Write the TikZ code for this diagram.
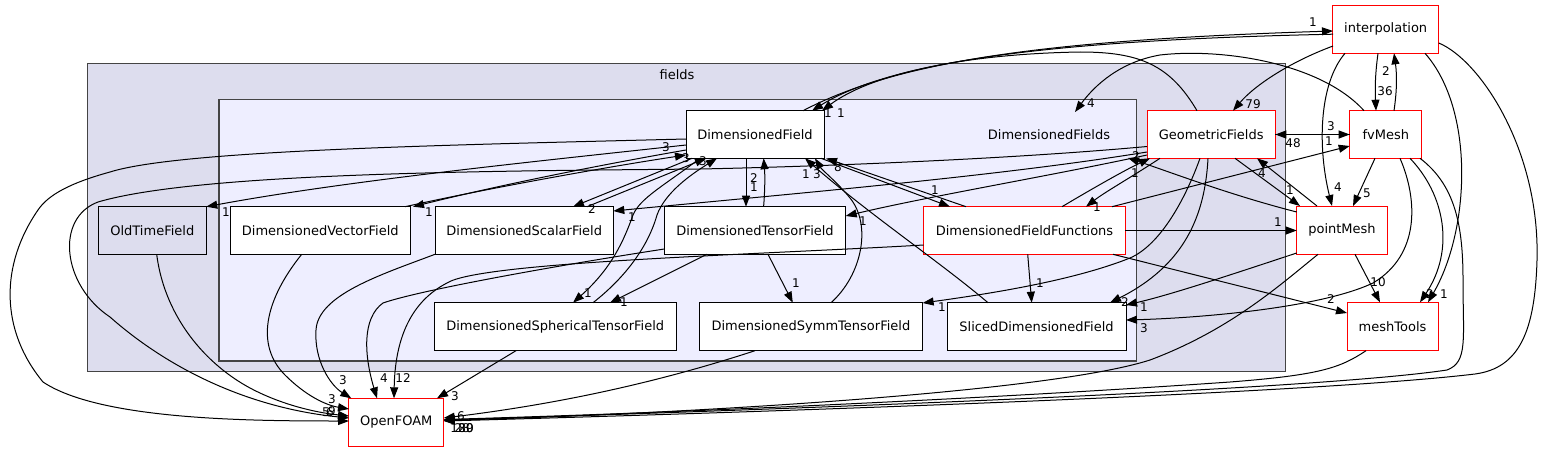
\documentclass[tikz,border=0pt]{standalone}
\usepackage{fontspec}
\setmainfont{DejaVu Sans}
\usetikzlibrary{arrows.meta}
\definecolor{outerc}{HTML}{DDDDEE}
\definecolor{innerc}{HTML}{EEEEFF}
\definecolor{clborder}{HTML}{444444}
\begin{document}
\begin{tikzpicture}[x=1pt,y=-1pt,
  box/.style={draw=black, line width=1pt, fill=white, minimum height=47.6pt, inner sep=0pt, font=\fontsize{13}{15}\selectfont},
  redbox/.style={box, draw=red},
  edge/.style={line width=1pt, -{Triangle[length=11pt,width=8pt]}},
  lbl/.style={font=\fontsize{12}{13}\selectfont, inner sep=0pt},
  cluster/.style={draw=clborder, line width=1.3pt}
]
\useasboundingbox (0,0) rectangle (1546,452);
% clusters
\draw[cluster, fill=outerc] (87.3,63.3) rectangle (1285.7,371.7);
\draw[cluster, fill=innerc] (219,99.3) rectangle (1136.3,361);
\node[font=\fontsize{13}{15}\selectfont, inner sep=0pt] (fields) at (677,75) {fields};
\node[font=\fontsize{13}{15}\selectfont, inner sep=0pt] (DFs) at (1049,134.5) {DimensionedFields};
% nodes
\node[box, minimum width=138pt] (DF) at (755,134.5) {DimensionedField};
\node[box, minimum width=108pt, fill=outerc] (OTF) at (152.3,230.5) {OldTimeField};
\node[box, minimum width=180pt] (DVF) at (320.3,230.5) {DimensionedVectorField};
\node[box, minimum width=178.3pt] (DSF) at (524.2,230.5) {DimensionedScalarField};
\node[box, minimum width=181.4pt] (DTF) at (755,230.5) {DimensionedTensorField};
\node[redbox, minimum width=201.6pt] (DFF) at (1024.5,230.5) {DimensionedFieldFunctions};
\node[box, minimum width=241.6pt, minimum height=48pt] (DSpTF) at (555.2,326.7) {DimensionedSphericalTensorField};
\node[box, minimum width=223.4pt, minimum height=48pt] (DSymmTF) at (810.9,326.7) {DimensionedSymmTensorField};
\node[box, minimum width=179pt, minimum height=48pt] (SDF) at (1036.5,326.7) {SlicedDimensionedField};
\node[redbox, minimum width=128.3pt] (GF) at (1211.2,134.5) {GeometricFields};
\node[redbox, minimum width=72.3pt] (fvMesh) at (1385.8,134.5) {fvMesh};
\node[redbox, minimum width=106pt, minimum height=48.3pt] (interp) at (1385.7,29.2) {interpolation};
\node[redbox, minimum width=90.6pt, minimum height=48.3pt] (pointMesh) at (1342,230.2) {pointMesh};
\node[redbox, minimum width=91pt, minimum height=48.4pt] (meshTools) at (1392.5,326.5) {meshTools};
\node[redbox, minimum width=94.7pt] (OF) at (396.3,422.2) {OpenFOAM};
% edges
\draw[edge] ([shift={(48,-23.8)}]DF.center) .. controls (900,60) and (1050,40) .. ([shift={(-52.7,1.8)}]interp.center);
\draw[edge] ([shift={(-52.7,5)}]interp.center) .. controls (1050,40) and (890,62) .. ([shift={(57,-23.8)}]DF.center);
\draw[edge] ([shift={(-14.2,-23.8)}]GF.center) .. controls (1170,65) and (1140,52) .. (1080,52) .. controls (960,54) and (870,75) .. ([shift={(67,-23.8)}]DF.center);
\draw[edge] ([shift={(-21.8,-23.8)}]fvMesh.center) .. controls (1320,62) and (1220,48) .. (1160,55) .. controls (1120,62) and (1095,85) .. ([shift={(26,-22.5)}]DFs.center);
\draw[edge] ([shift={(-52.7,16.8)}]interp.center) .. controls (1290,62) and (1255,85) .. ([shift={(21.8,-23.8)}]GF.center);
\draw[edge] ([shift={(-7.7,24.1)}]interp.center) .. controls (1375,75) and (1375,90) .. ([shift={(-9.8,-23.8)}]fvMesh.center);
\draw[edge] ([shift={(8.2,-23.8)}]fvMesh.center) .. controls (1397,90) and (1397,75) .. ([shift={(8.3,24.1)}]interp.center);
\draw[edge] ([shift={(-40.7,24.1)}]interp.center) .. controls (1318,85) and (1318,150) .. ([shift={(-10,-24.2)}]pointMesh.center);
\draw[edge] ([shift={(39.3,24.1)}]interp.center) .. controls (1475,110) and (1470,230) .. ([shift={(35.5,-24.2)}]meshTools.center);
\draw[edge] ([shift={(53,13.8)}]interp.center) .. controls (1480,60) and (1540,150) .. (1537,260) .. controls (1535,330) and (1520,368) .. (1475,374) .. controls (1300,395) and (700,414) .. ([shift={(47.4,-1.2)}]OF.center);
\draw[edge] ([shift={(34.2,23.8)}]fvMesh.center) .. controls (1455,185) and (1463,225) .. (1463,280) .. controls (1463,340) and (1468,362) .. (1447,370) .. controls (1300,392) and (700,412) .. ([shift={(47.4,-2.2)}]OF.center);
\draw[edge] ([shift={(24.2,23.8)}]fvMesh.center) .. controls (1445,195) and (1455,250) .. ([shift={(27.5,-24.2)}]meshTools.center);
\draw[edge] ([shift={(14.2,23.8)}]fvMesh.center) .. controls (1418,200) and (1420,255) .. (1373,283) .. controls (1320,308) and (1200,318) .. ([shift={(89.5,-6.7)}]SDF.center);
\draw[edge] ([shift={(-10.8,23.8)}]fvMesh.center) -- ([shift={(11,-24.2)}]pointMesh.center);
\draw[edge] ([shift={(64.1,0)}]GF.center) -- ([shift={(-36.1,0)}]fvMesh.center);
\draw[edge] ([shift={(-36.1,0)}]fvMesh.center) -- ([shift={(64.1,0)}]GF.center);
\draw[edge] ([shift={(87.5,-23.8)}]DFF.center) -- ([shift={(-36.1,11.5)}]fvMesh.center);
\draw[edge] ([shift={(23.8,23.8)}]GF.center) -- ([shift={(-42,-24.2)}]pointMesh.center);
\draw[edge] ([shift={(-25,-24.2)}]pointMesh.center) -- ([shift={(45.8,23.8)}]GF.center);
\draw[edge] ([shift={(-45.3,-18.2)}]pointMesh.center) .. controls (1230,195) and (1170,172) .. ([shift={(79,23.5)}]DFs.center);
\draw[edge] ([shift={(37.5,-23.8)}]DFF.center) .. controls (1090,190) and (1125,170) .. ([shift={(-61.2,23.8)}]GF.center);
\draw[edge] ([shift={(-51.2,23.8)}]GF.center) .. controls (1130,178) and (1105,192) .. ([shift={(61.5,-23.8)}]DFF.center);
\draw[edge] ([shift={(-64.2,17.5)}]GF.center) .. controls (1000,176) and (800,193) .. ([shift={(89.1,-19.5)}]DSF.center);
\draw[edge] ([shift={(-64.2,20.5)}]GF.center) .. controls (1050,176) and (930,196) .. ([shift={(90.7,-14.5)}]DTF.center);
\draw[edge] ([shift={(-11.2,23.8)}]GF.center) .. controls (1185,200) and (1160,245) .. (1130,258) .. controls (1070,282) and (980,295) .. ([shift={(111.7,-23.7)}]DSymmTF.center);
\draw[edge] ([shift={(-3.2,23.8)}]GF.center) .. controls (1205,215) and (1185,265) .. ([shift={(73.5,-24)}]SDF.center);
\draw[edge] ([shift={(-64.2,12)}]GF.center) .. controls (1000,160) and (800,167) .. (700,169) .. controls (500,171) and (200,172) .. (98,202) .. controls (55,218) and (62,285) .. (110,317) .. controls (170,370) and (250,408) .. ([shift={(-47.3,-4.2)}]OF.center);
\draw[edge] ([shift={(-45.3,22.8)}]pointMesh.center) .. controls (1230,275) and (1170,295) .. ([shift={(89.5,-21.7)}]SDF.center);
\draw[edge] ([shift={(13,24.1)}]pointMesh.center) -- ([shift={(-12.5,-24.2)}]meshTools.center);
\draw[edge] ([shift={(-24,24.1)}]pointMesh.center) .. controls (1280,285) and (1230,330) .. (1150,360) .. controls (1050,392) and (700,413) .. ([shift={(47.4,-1.7)}]OF.center);
\draw[edge] ([shift={(-26.5,24.2)}]meshTools.center) .. controls (1340,368) and (1320,375) .. (1230,382) .. controls (1000,398) and (700,412) .. ([shift={(47.4,-2.7)}]OF.center);
\draw[edge] ([shift={(100.8,0)}]DFF.center) -- ([shift={(-45.3,0.3)}]pointMesh.center);
\draw[edge] ([shift={(88.5,23.8)}]DFF.center) -- ([shift={(-45.5,-13.5)}]meshTools.center);
\draw[edge] ([shift={(3.2,23.8)}]DFF.center) -- ([shift={(-4.8,-24)}]SDF.center);
\draw[edge] ([shift={(-58.5,-23.8)}]DFF.center) -- ([shift={(71,23.8)}]DF.center);
\draw[edge] ([shift={(66,23.8)}]DF.center) -- ([shift={(-74.5,-23.8)}]DFF.center);
\draw[edge] ([shift={(-48.5,-24)}]SDF.center) .. controls (940,262) and (870,215) .. ([shift={(50,23.8)}]DF.center);
\draw[edge] ([shift={(20.1,-24)}]DSymmTF.center) .. controls (862,275) and (872,225) .. (850,198) .. controls (838,183) and (822,170) .. ([shift={(60,23.8)}]DF.center);
\draw[edge] ([shift={(-9,23.8)}]DF.center) -- ([shift={(-9,-23.8)}]DTF.center);
\draw[edge] ([shift={(8.6,-23.8)}]DTF.center) .. controls (765,190) and (765,175) .. ([shift={(8.6,23.8)}]DF.center);
\draw[edge] ([shift={(-48,23.8)}]DTF.center) -- ([shift={(54.8,-24)}]DSpTF.center);
\draw[edge] ([shift={(13,23.8)}]DTF.center) -- ([shift={(-18.1,-24)}]DSymmTF.center);
\draw[edge] ([shift={(-55,23.8)}]DF.center) .. controls (665,185) and (640,198) .. (633,215) .. controls (624,240) and (612,268) .. ([shift={(17.8,-24)}]DSpTF.center);
\draw[edge] ([shift={(37.8,-24)}]DSpTF.center) .. controls (622,280) and (647,250) .. (657,215) .. controls (665,193) and (690,175) .. ([shift={(-38,23.8)}]DF.center);
\draw[edge] ([shift={(-63,23.8)}]DF.center) -- ([shift={(48.8,-23.8)}]DSF.center);
\draw[edge] ([shift={(62.8,-23.8)}]DSF.center) -- ([shift={(-49,23.8)}]DF.center);
\draw[edge] ([shift={(-69,15.5)}]DF.center) .. controls (600,165) and (500,185) .. ([shift={(92.7,-23.8)}]DVF.center);
\draw[edge] ([shift={(84.7,-23.8)}]DVF.center) .. controls (480,190) and (600,168) .. ([shift={(-69,20.5)}]DF.center);
\draw[edge] ([shift={(-69,10.5)}]DF.center) .. controls (550,160) and (350,180) .. ([shift={(54,-23.8)}]OTF.center);
\draw[edge] ([shift={(-69,4.5)}]DF.center) .. controls (450,145) and (180,150) .. (110,172) .. controls (70,183) and (48,195) .. (38,210) .. controls (0,265) and (0,330) .. (43,382) .. controls (100,420) and (250,421) .. ([shift={(-47.3,-1.2)}]OF.center);
\draw[edge] ([shift={(4.4,23.8)}]OTF.center) .. controls (165,320) and (210,370) .. (260,393) .. controls (290,407) and (320,413) .. ([shift={(-47.3,-6.2)}]OF.center);
\draw[edge] ([shift={(-18.6,23.8)}]DVF.center) .. controls (265,300) and (255,345) .. (285,375) .. controls (305,395) and (325,405) .. ([shift={(-47.3,-13.2)}]OF.center);
\draw[edge] ([shift={(-89.2,23.8)}]DSF.center) .. controls (380,275) and (318,295) .. (316,330) .. controls (314,360) and (330,385) .. ([shift={(-45,-23.9)}]OF.center);
\draw[edge] ([shift={(-90.7,18.5)}]DTF.center) .. controls (560,265) and (420,290) .. (383,303) .. controls (362,318) and (364,355) .. ([shift={(-19.3,-23.9)}]OF.center);
\draw[edge] ([shift={(-100.8,14.5)}]DFF.center) .. controls (750,255) and (480,262) .. (447,283) .. controls (410,302) and (395,340) .. ([shift={(-2.3,-23.9)}]OF.center);
\draw[edge] ([shift={(-39.2,24)}]DSpTF.center) -- ([shift={(40.7,-23.9)}]OF.center);
\draw[edge] ([shift={(-55.9,24)}]DSymmTF.center) .. controls (650,385) and (550,405) .. ([shift={(47.4,-4.2)}]OF.center);
% labels
\node[lbl] (t1) at (1313,22) {1};
\node[lbl] (t2) at (828,113) {1};
\node[lbl] (t3) at (841,113) {1};
\node[lbl] (t4) at (1091,103) {4};
\node[lbl] (t5) at (1253,104) {79};
\node[lbl] (t6) at (1385,91) {36};
\node[lbl] (t7) at (1386,71) {2};
\node[lbl] (t8) at (1338,187) {4};
\node[lbl] (t9) at (1444,294) {1};
\node[lbl] (t10) at (1430,294) {2};
\node[lbl] (t11) at (1144,328) {3};
\node[lbl] (t12) at (1367,193) {5};
\node[lbl] (t13) at (1331,126) {3};
\node[lbl] (t14) at (1293,143) {48};
\node[lbl] (t15) at (1329,141) {1};
\node[lbl] (t16) at (1290,190) {1};
\node[lbl] (t17) at (1262,173) {4};
\node[lbl] (t18) at (1136,156) {2};
\node[lbl] (t19) at (1135,173) {1};
\node[lbl] (t20) at (1097,207) {1};
\node[lbl] (t21) at (632,217) {1};
\node[lbl] (t22) at (863,221) {1};
\node[lbl] (t23) at (942,307) {1};
\node[lbl] (t24) at (1125,302) {2};
\node[lbl] (t25) at (332,411) {9};
\node[lbl] (t26) at (1144,307) {1};
\node[lbl] (t27) at (1378,282) {10};
\node[lbl] (t28) at (1278,222) {1};
\node[lbl] (t29) at (1331,299) {2};
\node[lbl] (t30) at (1040,283) {1};
\node[lbl] (t31) at (838,167) {8};
\node[lbl] (t32) at (935,190) {1};
\node[lbl] (t33) at (806,174) {1};
\node[lbl] (t34) at (817,174) {3};
\node[lbl] (t35) at (754,187) {1};
\node[lbl] (t36) at (754,178) {2};
\node[lbl] (t37) at (624,302) {1};
\node[lbl] (t38) at (796,283) {1};
\node[lbl] (t39) at (588,293) {1};
\node[lbl] (t40) at (703,161) {3};
\node[lbl] (t41) at (592,209) {2};
\node[lbl] (t42) at (686,158) {3};
\node[lbl] (t43) at (429,212) {1};
\node[lbl] (t44) at (666,147) {3};
\node[lbl] (t45) at (226,212) {1};
\node[lbl] (t46) at (326,412) {5};
\node[lbl] (t47) at (330,412) {6};
\node[lbl] (t48) at (332,399) {3};
\node[lbl] (t49) at (343,380) {3};
\node[lbl] (t50) at (384,378) {4};
\node[lbl] (t51) at (403,378) {12};
\node[lbl] (t52) at (455,396) {3};
\node[lbl] (t53) at (461,416) {6};
\node[lbl] (t54) at (458,428) {12};
\node[lbl] (t55) at (462,428) {28};
\node[lbl] (t56) at (466,428) {80};
\node[lbl] (t57) at (470,428) {9};
\end{tikzpicture}
\end{document}
